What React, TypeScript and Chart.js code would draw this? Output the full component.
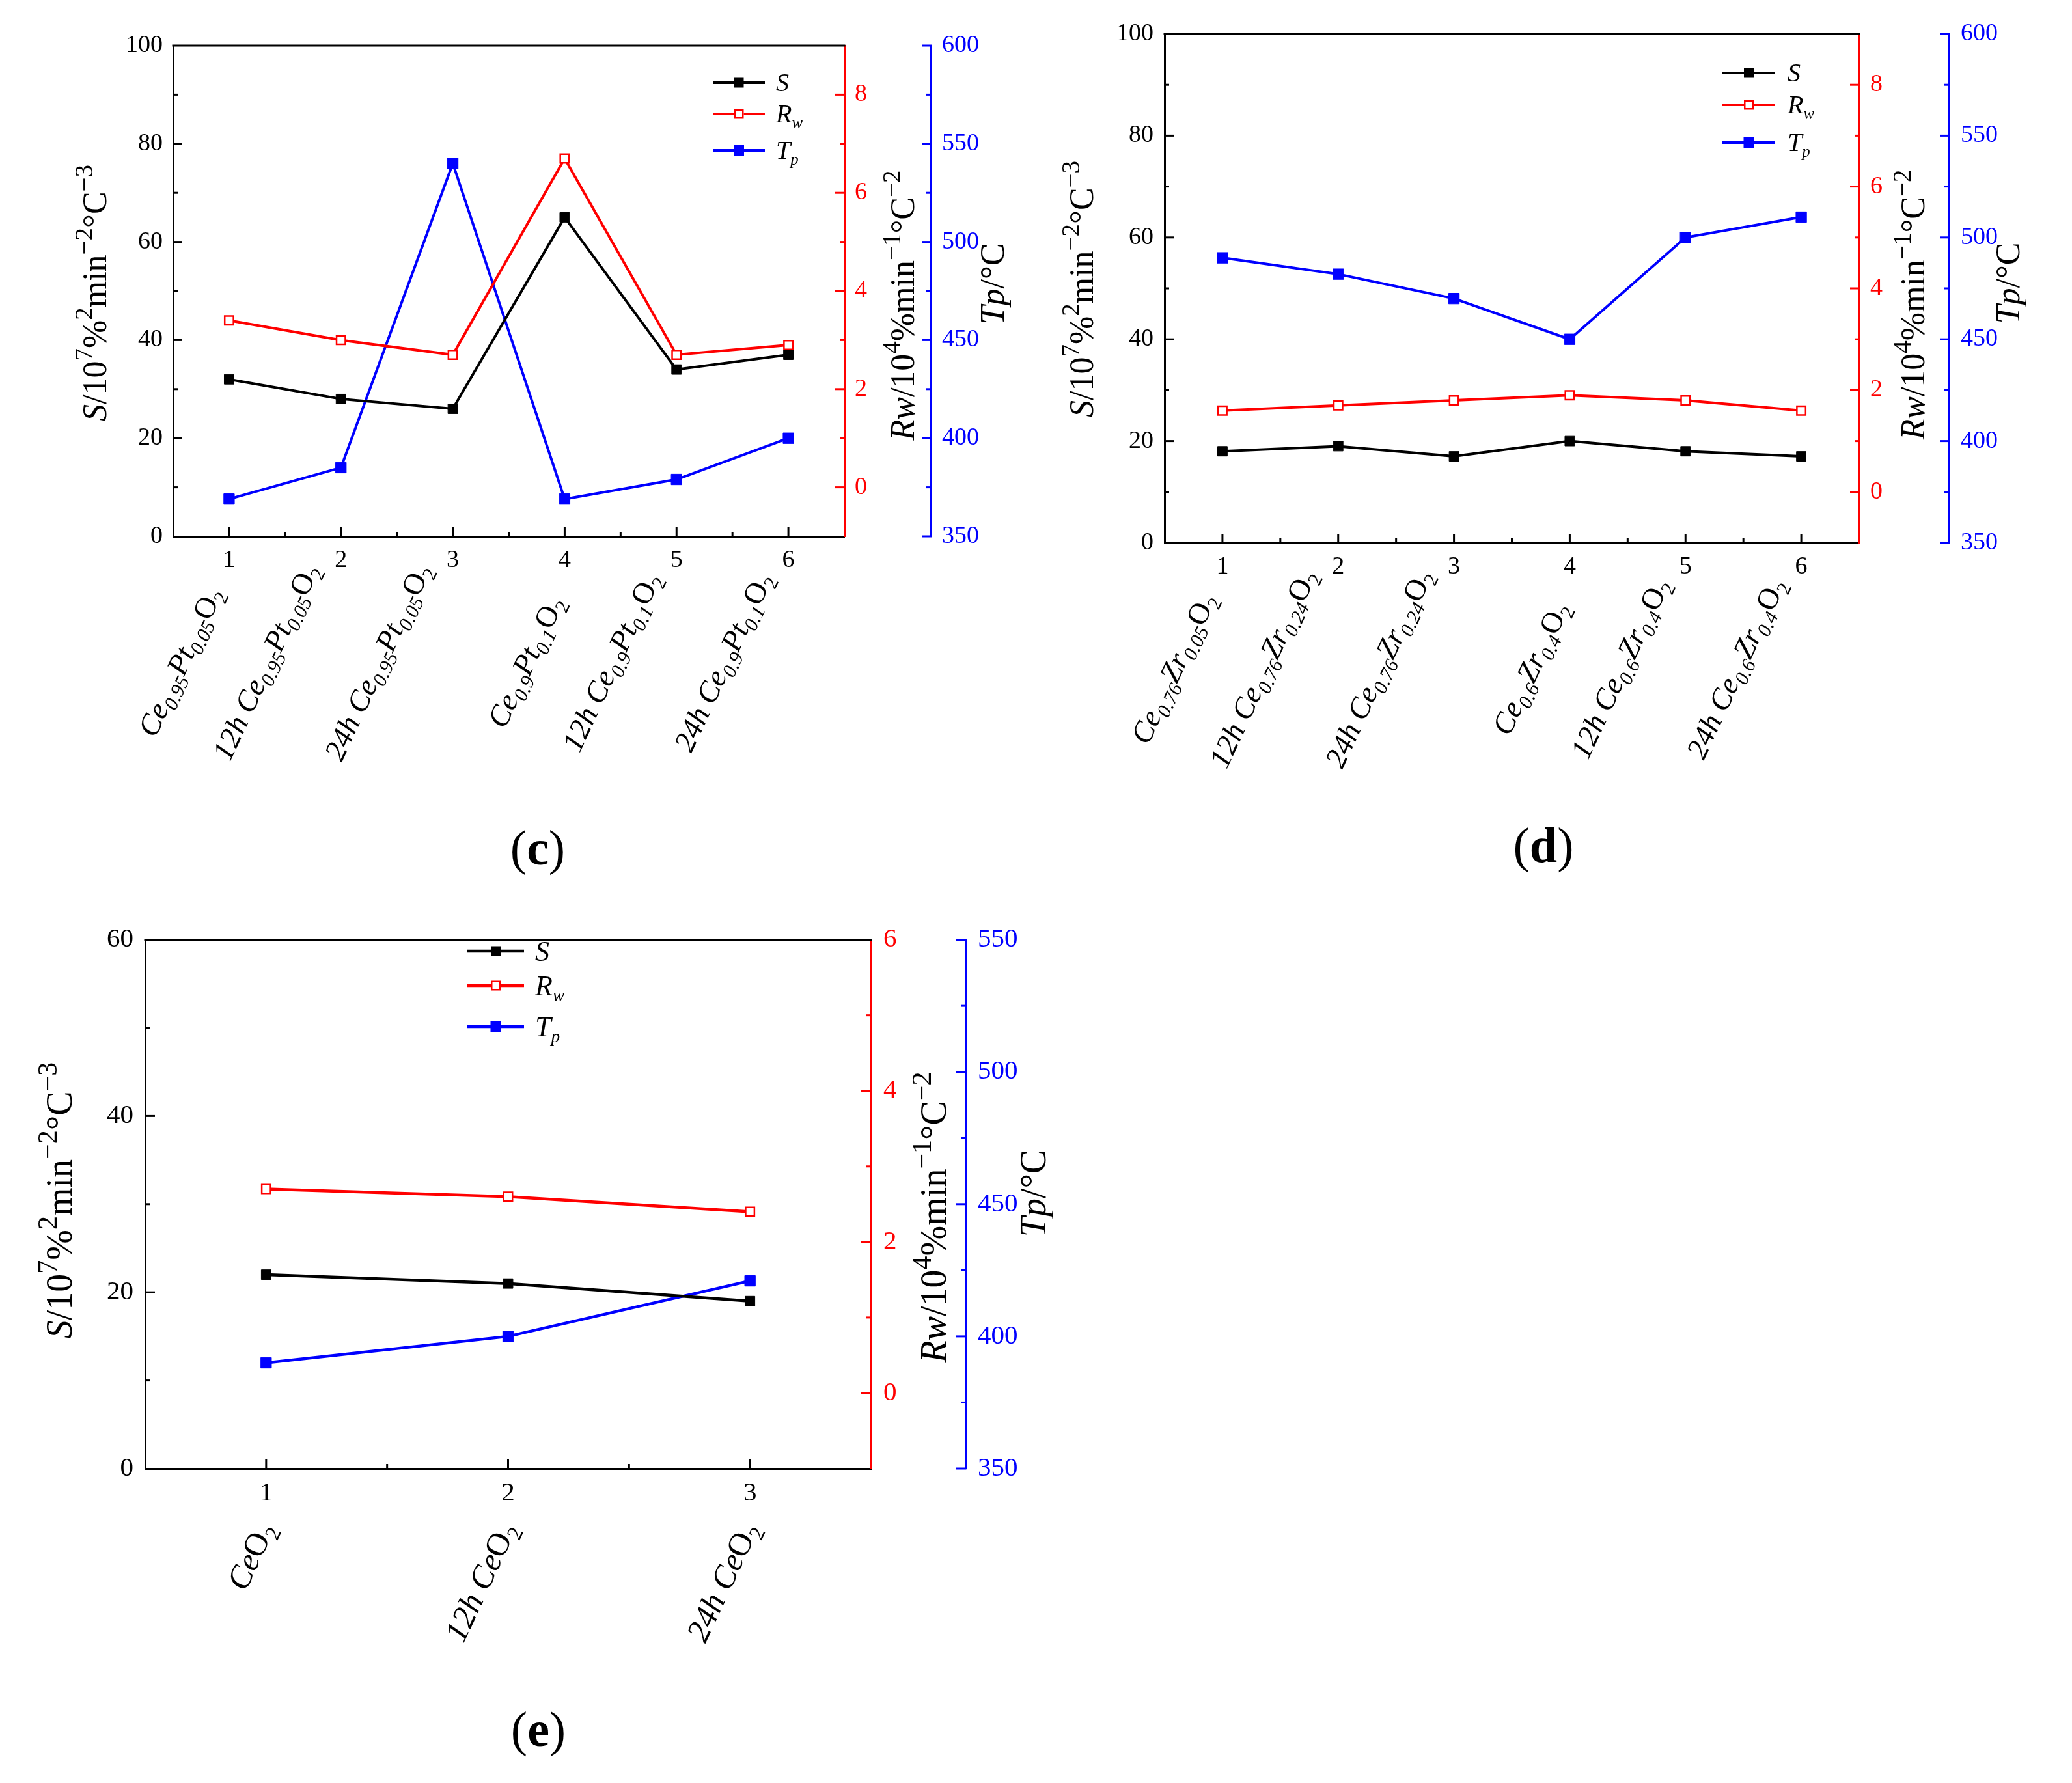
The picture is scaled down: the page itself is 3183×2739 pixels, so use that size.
import React, { useEffect, useRef } from 'react';
import { Chart, registerables } from 'chart.js';

Chart.register(...registerables);

const FONT = '"Liberation Serif", "Times New Roman", Times, serif';
Chart.defaults.font.family = FONT;

// ---------------- data ----------------
const tickLabelsC = ['1', '2', '3', '4', '5', '6'];
const namesC = [
  '*Ce_{0.95}Pt_{0.05}*O_{2}',
  '*12h Ce_{0.95}Pt_{0.05}*O_{2}',
  '*24h Ce_{0.95}Pt_{0.05}*O_{2}',
  '*Ce_{0.9}Pt_{0.1}*O_{2}',
  '*12h Ce_{0.9}Pt_{0.1}*O_{2}',
  '*24h Ce_{0.9}Pt_{0.1}*O_{2}',
];
const sC = [32, 28, 26, 65, 34, 37];
const rwC = [3.4, 3.0, 2.7, 6.7, 2.7, 2.9];
const tpC = [369, 385, 540, 369, 379, 400];

const tickLabelsD = ['1', '2', '3', '4', '5', '6'];
const namesD = [
  '*Ce_{0.76}Zr_{0.05}*O_{2}',
  '*12h Ce_{0.76}Zr_{0.24}*O_{2}',
  '*24h Ce_{0.76}Zr_{0.24}*O_{2}',
  '*Ce_{0.6}Zr_{0.4}*O_{2}',
  '*12h Ce_{0.6}Zr_{0.4}*O_{2}',
  '*24h Ce_{0.6}Zr_{0.4}*O_{2}',
];
const sD = [18, 19, 17, 20, 18, 17];
const rwD = [1.6, 1.7, 1.8, 1.9, 1.8, 1.6];
const tpD = [490, 482, 470, 450, 500, 510];

const tickLabelsE = ['1', '2', '3'];
const namesE = ['*Ce*O_{2}', '*12h Ce*O_{2}', '*24h Ce*O_{2}'];
const sE = [22, 21, 19];
const rwE = [2.7, 2.6, 2.4];
const tpE = [390, 400, 421];

const seriesLabels = ['*S*', '*R_{w}*', '*T_{p}*'];
const titleS = '*S*/10^{7}%^{2}min^{\u22122}\u00B0C^{\u22123}';
const titleRw = '*Rw*/10^{4}%min^{\u22121}\u00B0C^{\u22122}';
const titleTp = '*Tp*/\u00B0C';

// ---------------- rich text ----------------
type Seg = { t: string; it: boolean; bold: boolean; mode: number };
function parseRich(s: string): Seg[] {
  const out: Seg[] = [];
  let it = false, bold = false, mode = 0, buf = '';
  const flush = () => { if (buf) { out.push({ t: buf, it, bold, mode }); buf = ''; } };
  for (let i = 0; i < s.length; i++) {
    const ch = s[i];
    if (ch === '*') { flush(); it = !it; }
    else if (ch === '!') { flush(); bold = !bold; }
    else if ((ch === '_' || ch === '^') && s[i + 1] === '{') { flush(); mode = ch === '_' ? 1 : 2; i++; }
    else if (ch === '}' && mode) { flush(); mode = 0; }
    else buf += ch;
  }
  flush();
  return out;
}

function richFont(sg: Seg, size: number, subScale: number, supScale: number) {
  const sz = sg.mode === 1 ? size * subScale : sg.mode === 2 ? size * supScale : size;
  return `${sg.it ? 'italic ' : ''}${sg.bold ? 'bold ' : ''}${sz}px ${FONT}`;
}

function measureRich(ctx: CanvasRenderingContext2D, text: string, size: number, subScale = 0.62, supScale = 0.75) {
  let total = 0;
  for (const sg of parseRich(text)) { ctx.font = richFont(sg, size, subScale, supScale); total += ctx.measureText(sg.t).width; }
  return total;
}

function drawRich(ctx: CanvasRenderingContext2D, text: string, x: number, y: number, size: number,
  align: string, color: string, subScale = 0.62, supScale = 0.75) {
  const segs = parseRich(text);
  const widths: number[] = [];
  let total = 0;
  for (const sg of segs) { ctx.font = richFont(sg, size, subScale, supScale); const w = ctx.measureText(sg.t).width; widths.push(w); total += w; }
  let cx = align === 'left' ? x : align === 'right' ? x - total : x - total / 2;
  ctx.fillStyle = color;
  ctx.textAlign = 'left';
  ctx.textBaseline = 'alphabetic';
  segs.forEach((sg, i) => {
    ctx.font = richFont(sg, size, subScale, supScale);
    const dy = sg.mode === 1 ? size * 0.22 : sg.mode === 2 ? -size * 0.4 : 0;
    ctx.fillText(sg.t, cx, y + dy);
    cx += widths[i];
  });
}

// ---------------- panel configs ----------------
type PanelCfg = any;

const panels: PanelCfg[] = [
  {
    key: 'c', x: 0, y: 0, w: 1600, h: 1400,
    area: { left: 266, top: 70, right: 1297, bottom: 824, blue: 1430 },
    ticks: tickLabelsC, names: namesC, S: sC, Rw: rwC, Tp: tpC,
    sMax: 100, sStep: 20, rMin: -1, rMax: 9, tMin: 350, tMax: 600,
    tickFont: 38, titleFont: 52, catFont: 46, legendFont: 40, letterFont: 76,
    xPad: 14, padL: 16, padR: 16, padB: 17,
    titlePos: { s: [147, 450], r: [1388, 469], t: [1526, 436] },
    legend: { x1: 1095, x2: 1175, tx: 1192, rows: [127, 175, 231] },
    letter: { t: '(!c!)', x: 826, y: 1328 },
    label: { mode: 'center', cx0: -77, cy: 199, slope: 0.5, refLen: 278 },
    tl: 14, ts: 7, lw: 4,
  },
  {
    key: 'd', x: 1600, y: 0, w: 1583, h: 1400,
    area: { left: 189, top: 52, right: 1256, bottom: 834, blue: 1393 },
    ticks: tickLabelsD, names: namesD, S: sD, Rw: rwD, Tp: tpD,
    sMax: 100, sStep: 20, rMin: -1, rMax: 9, tMin: 350, tMax: 600,
    tickFont: 38, titleFont: 52, catFont: 46, legendFont: 40, letterFont: 76,
    xPad: 14, padL: 17, padR: 17, padB: 19,
    titlePos: { s: [63, 444], r: [1340, 468], t: [1486, 435] },
    legend: { x1: 1046, x2: 1127, tx: 1146, rows: [112, 161, 219] },
    letter: { t: '(!d!)', x: 771, y: 1324 },
    label: { mode: 'center', cx0: -76, cy: 199, slope: 0.5, refLen: 278 },
    tl: 14, ts: 7, lw: 4,
  },
  {
    key: 'e', x: 0, y: 1400, w: 1700, h: 1339,
    area: { left: 223, top: 28, right: 1338, bottom: 856, blue: 1483 },
    ticks: tickLabelsE, names: namesE, S: sE, Rw: rwE, Tp: tpE,
    sMax: 60, sStep: 20, rMin: -1, rMax: 6, tMin: 350, tMax: 550,
    tickFont: 41, titleFont: 56, catFont: 50, legendFont: 44, letterFont: 76,
    xPad: 14, padL: 18, padR: 19, padB: 19,
    titlePos: { s: [93, 444], r: [1436, 470], t: [1589, 433] },
    legend: { x1: 718, x2: 805, tx: 822, rows: [61, 114, 177] },
    letter: { t: '(!e!)', x: 827, y: 1282 },
    label: { mode: 'end', dx: 14, dy: 92 },
    tl: 15, ts: 7, lw: 4.5,
  },
];

const COLORS = ['#000000', '#ff0000', '#0000ff'];
const LABEL_ANGLE = (-65 * Math.PI) / 180;
const SUB_LABEL = 0.66;

function drawMarker(ctx: CanvasRenderingContext2D, x: number, y: number, i: number, side: number) {
  const h = side / 2;
  if (i === 1) {
    ctx.fillStyle = '#ffffff';
    ctx.fillRect(x - h, y - h, side, side);
    ctx.strokeStyle = COLORS[1];
    ctx.lineWidth = 2.5;
    ctx.strokeRect(x - h + 1.25, y - h + 1.25, side - 2.5, side - 2.5);
  } else {
    ctx.fillStyle = COLORS[i];
    ctx.fillRect(x - h, y - h, side, side);
  }
}

function makeDecor(cfg: PanelCfg) {
  return {
    id: 'decor_' + cfg.key,
    afterDraw(chart: any) {
      const ctx: CanvasRenderingContext2D = chart.ctx;
      const ca = chart.chartArea;
      const xs = chart.scales.x, ys = chart.scales.y, rs = chart.scales.y1, bs = chart.scales.y2;
      ctx.save();
      const seg = (x1: number, y1: number, x2: number, y2: number, color: string, w = 3) => {
        ctx.strokeStyle = color; ctx.lineWidth = w;
        ctx.beginPath(); ctx.moveTo(x1, y1); ctx.lineTo(x2, y2); ctx.stroke();
      };
      // top frame line
      seg(ca.left - 1.5, ca.top, ca.right + 1.5, ca.top, '#000000');
      // left axis ticks (inward)
      const minorL = cfg.sStep / 2;
      for (let v = minorL; v < cfg.sMax - 1e-6; v += minorL) {
        const y = ys.getPixelForValue(v);
        const major = Math.abs(v / cfg.sStep - Math.round(v / cfg.sStep)) < 1e-6;
        seg(ca.left, y, ca.left + (major ? cfg.tl : cfg.ts), y, '#000000');
      }
      // red axis ticks (inward)
      for (let v = cfg.rMin + 1; v < cfg.rMax - 1e-6; v += 1) {
        const y = rs.getPixelForValue(v);
        const major = v % 2 === 0;
        seg(ca.right, y, ca.right - (major ? cfg.tl : cfg.ts), y, COLORS[1]);
      }
      // blue axis ticks (pointing left)
      const bx = bs.left;
      for (let v = cfg.tMin; v <= cfg.tMax + 1e-6; v += 25) {
        const y = bs.getPixelForValue(v);
        const major = v % 50 === 0;
        seg(bx + 1.5, y, bx - (major ? cfg.tl - 1 : cfg.ts), y, COLORS[2]);
      }
      // x axis ticks (inward)
      const n = cfg.ticks.length;
      for (let i = 0; i < n; i++) {
        const px = xs.getPixelForValue(i);
        seg(px, ca.bottom, px, ca.bottom - cfg.tl, '#000000');
        if (i < n - 1) {
          const mid = (px + xs.getPixelForValue(i + 1)) / 2;
          seg(mid, ca.bottom, mid, ca.bottom - cfg.ts, '#000000');
        }
      }
      // rotated category names
      const lb = cfg.label;
      for (let i = 0; i < n; i++) {
        const px = xs.getPixelForValue(i);
        ctx.save();
        if (lb.mode === 'center') {
          const L = measureRich(ctx, cfg.names[i], cfg.catFont, SUB_LABEL);
          ctx.translate(px + lb.cx0 - lb.slope * (L - lb.refLen), ca.bottom + lb.cy);
          ctx.rotate(LABEL_ANGLE);
          drawRich(ctx, cfg.names[i], 0, 0, cfg.catFont, 'center', '#000000', SUB_LABEL);
        } else {
          ctx.translate(px + lb.dx, ca.bottom + lb.dy);
          ctx.rotate(LABEL_ANGLE);
          drawRich(ctx, cfg.names[i], 0, 0, cfg.catFont, 'right', '#000000', SUB_LABEL);
        }
        ctx.restore();
      }
      // axis titles
      const vTitle = (text: string, p: number[]) => {
        ctx.save();
        ctx.translate(p[0], p[1]);
        ctx.rotate(-Math.PI / 2);
        drawRich(ctx, text, 0, cfg.titleFont * 0.3, cfg.titleFont, 'center', '#000000', 0.62, 0.75);
        ctx.restore();
      };
      vTitle(titleS, cfg.titlePos.s);
      vTitle(titleRw, cfg.titlePos.r);
      vTitle(titleTp, cfg.titlePos.t);
      // legend
      const lg = cfg.legend;
      for (let i = 0; i < 3; i++) {
        const y = lg.rows[i];
        seg(lg.x1, y, lg.x2, y, COLORS[i], cfg.lw);
        drawMarker(ctx, (lg.x1 + lg.x2) / 2, y, i, i === 2 ? 16 : 15);
        drawRich(ctx, seriesLabels[i], lg.tx, y + cfg.legendFont * 0.33, cfg.legendFont, 'left', '#000000', 0.62);
      }
      // panel letter
      drawRich(ctx, cfg.letter.t, cfg.letter.x, cfg.letter.y, cfg.letterFont, 'center', '#000000');
      ctx.restore();
    },
  };
}

function buildConfig(cfg: PanelCfg): any {
  const a = cfg.area;
  const tickFont = { family: FONT, size: cfg.tickFont };
  return {
    type: 'line',
    data: {
      labels: cfg.ticks,
      datasets: [
        {
          label: 'S', data: cfg.S, yAxisID: 'y', borderColor: COLORS[0], backgroundColor: COLORS[0],
          borderWidth: cfg.lw, pointStyle: 'rect', pointRadius: 10.5, pointBorderWidth: 1,
          pointBackgroundColor: COLORS[0], pointBorderColor: COLORS[0], tension: 0, fill: false,
        },
        {
          label: 'Rw', data: cfg.Rw, yAxisID: 'y1', borderColor: COLORS[1], backgroundColor: '#ffffff',
          borderWidth: cfg.lw, pointStyle: 'rect', pointRadius: 9.5, pointBorderWidth: 2.5,
          pointBackgroundColor: '#ffffff', pointBorderColor: COLORS[1], tension: 0, fill: false,
        },
        {
          label: 'Tp', data: cfg.Tp, yAxisID: 'y2', borderColor: COLORS[2], backgroundColor: COLORS[2],
          borderWidth: cfg.lw, pointStyle: 'rect', pointRadius: 11.5, pointBorderWidth: 1,
          pointBackgroundColor: COLORS[2], pointBorderColor: COLORS[2], tension: 0, fill: false,
        },
      ],
    },
    options: {
      responsive: false,
      maintainAspectRatio: false,
      animation: false,
      devicePixelRatio: 1,
      events: [],
      layout: { padding: { top: a.top, left: 0, right: 0, bottom: 0 } },
      plugins: { legend: { display: false }, tooltip: { enabled: false }, title: { display: false } },
      scales: {
        x: {
          type: 'category', offset: true, position: 'bottom',
          grid: { display: false, drawTicks: false },
          border: { display: true, color: '#000000', width: 3 },
          ticks: { color: '#000000', font: tickFont, padding: cfg.xPad, maxRotation: 0, minRotation: 0, autoSkip: false },
          afterFit: (s: any) => { s.height = cfg.h - a.bottom; },
        },
        y: {
          position: 'left', min: 0, max: cfg.sMax,
          grid: { display: false, drawTicks: false },
          border: { display: true, color: '#000000', width: 3 },
          ticks: { color: '#000000', font: tickFont, padding: cfg.padL, stepSize: cfg.sStep, autoSkip: false },
          afterFit: (s: any) => { s.width = a.left; },
        },
        y1: {
          position: 'right', min: cfg.rMin, max: cfg.rMax,
          grid: { display: false, drawTicks: false },
          border: { display: true, color: COLORS[1], width: 3 },
          ticks: {
            color: COLORS[1], font: tickFont, padding: cfg.padR, stepSize: 1, autoSkip: false,
            callback: (v: any) => (Number.isInteger(v) && v % 2 === 0 ? String(v) : ''),
          },
          afterFit: (s: any) => { s.width = a.blue - a.right; },
        },
        y2: {
          position: 'right', min: cfg.tMin, max: cfg.tMax,
          grid: { display: false, drawTicks: false },
          border: { display: true, color: COLORS[2], width: 3 },
          ticks: { color: COLORS[2], font: tickFont, padding: cfg.padB, stepSize: 50, autoSkip: false },
          afterFit: (s: any) => { s.width = cfg.w - a.blue; },
        },
      },
    },
    plugins: [makeDecor(cfg)],
  };
}

function Panel({ cfg }: { cfg: PanelCfg }) {
  const ref = useRef<HTMLCanvasElement>(null);
  useEffect(() => {
    const chart = new Chart(ref.current as HTMLCanvasElement, buildConfig(cfg));
    return () => chart.destroy();
  }, [cfg]);
  return (
    <canvas
      ref={ref}
      width={cfg.w}
      height={cfg.h}
      style={{ position: 'absolute', left: cfg.x, top: cfg.y, width: cfg.w, height: cfg.h }}
    />
  );
}

export default function App() {
  return (
    <div style={{ position: 'absolute', left: 0, top: 0, width: 3183, height: 2739, background: '#ffffff', overflow: 'hidden' }}>
      {panels.map((p) => <Panel key={p.key} cfg={p} />)}
    </div>
  );
}
